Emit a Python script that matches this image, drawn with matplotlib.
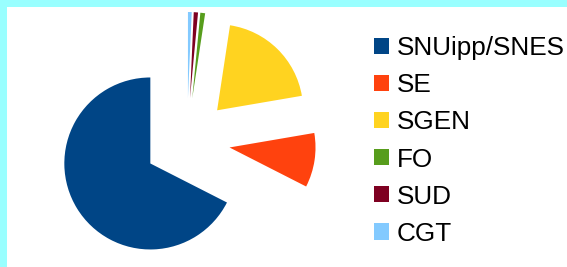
import matplotlib
matplotlib.use("Agg")
import matplotlib.pyplot as plt
from matplotlib.patches import Rectangle

# union shares (percent)
labels = ['SNUipp/SNES', 'SE', 'SGEN', 'FO', 'SUD', 'CGT']
shares = [67.5, 10.2, 19.9, 0.9, 0.8, 0.7]
colors = ['#004586', '#ff420e', '#ffd320', '#579d1c', '#7e0021', '#83caff']

W, H = 567, 267
fig = plt.figure(figsize=(W / 100, H / 100), dpi=100)
fig.patch.set_facecolor('white')

# cyan frame on the top and left edges
fig.patches.append(Rectangle((0, 0), 7 / W, 1, transform=fig.transFigure,
                             facecolor='#99ffff', edgecolor='none', zorder=0))
fig.patches.append(Rectangle((0, 1 - 7 / H), 1, 7 / H, transform=fig.transFigure,
                             facecolor='#99ffff', edgecolor='none', zorder=0))

ax = fig.add_axes([0, 0, 1, 1])
ax.patch.set_alpha(0)
# explode is in data units here (pixels), half the radius
wedges, _ = ax.pie(shares, colors=colors, startangle=90, counterclock=True,
                   explode=[43] * len(shares), radius=86, center=(187, 126))
ax.set_xlim(0, W)
ax.set_ylim(0, H)
ax.set_aspect('equal')
ax.axis('off')

leg = ax.legend(wedges, labels, loc='center left',
                bbox_to_anchor=(374 / W, 126 / H), bbox_transform=fig.transFigure,
                frameon=False, borderpad=0, borderaxespad=0,
                handlelength=0.58, handleheight=0.58, handletextpad=0.3,
                labelspacing=0.5,
                prop={'family': 'Liberation Sans', 'size': 18.8})

fig.savefig('out.png', dpi=100, facecolor='white')
